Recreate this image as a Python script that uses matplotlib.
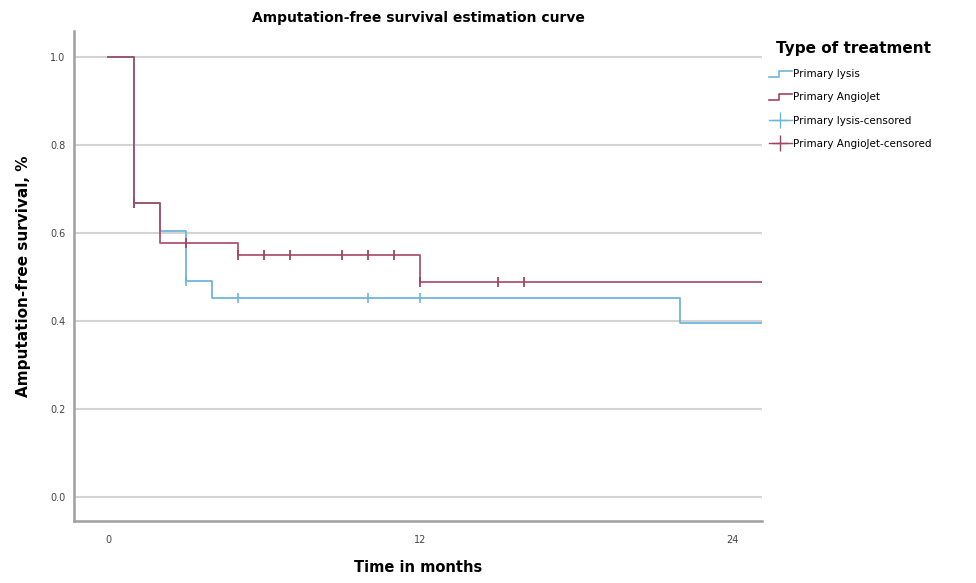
"""
Amputation-free survival, Kaplan-Meier style step curves per treatment.
"""
import matplotlib
matplotlib.use("Agg")
import matplotlib.pyplot as plt
from matplotlib.lines import Line2D
from matplotlib.legend_handler import HandlerBase

# Step curves (time in months, survival); each value holds until the next time
lysis_t = [0, 1, 2, 3, 4, 22, 25.2]
lysis_s = [1.0, 0.667, 0.605, 0.49, 0.452, 0.395, 0.395]
angio_t = [0, 1, 2, 5, 12, 25.2]
angio_s = [1.0, 0.667, 0.578, 0.55, 0.488, 0.488]

# Censored observations
lysis_cens_t = [1, 3, 5, 10, 12]
lysis_cens_s = [0.667, 0.49, 0.452, 0.452, 0.452]
angio_cens_t = [1, 3, 5, 6, 7, 9, 10, 11, 12, 15, 16]
angio_cens_s = [0.667, 0.578, 0.55, 0.55, 0.55, 0.55, 0.55, 0.55, 0.488, 0.488, 0.488]

x_ticks = [0, 12, 24]
y_ticks = [0.0, 0.2, 0.4, 0.6, 0.8, 1.0]

BLUE = "#6db5dc"
RED = "#a3445f"


class StepHandler(HandlerBase):
    # draws the little step glyph used by the legend
    def create_artists(self, legend, orig_handle, xd, yd, w, h, fontsize, trans):
        xs = [xd, xd + w * 0.45, xd + w * 0.45, xd + w]
        ys = [yd + h * 0.1, yd + h * 0.1, yd + h * 0.9, yd + h * 0.9]
        ln = Line2D(xs, ys, color=orig_handle.get_color(), lw=1.2, transform=trans)
        return [ln]


fig = plt.figure(figsize=(9.76, 5.83), dpi=100)
ax = fig.add_axes([0.0758, 0.106, 0.705, 0.84])

for y in y_ticks:
    ax.axhline(y, color="#d4d4d4", lw=1.5, zorder=0)

blue_line, = ax.step(lysis_t, lysis_s, where="post", color=BLUE, lw=1.3, zorder=2)
red_line, = ax.step(angio_t, angio_s, where="post", color=RED, lw=1.3,
                    alpha=0.9, zorder=3)
ax.plot(lysis_cens_t, lysis_cens_s, ls="none", marker="|", ms=7, mew=1.2,
        color=BLUE, zorder=4)
ax.plot(angio_cens_t, angio_cens_s, ls="none", marker="|", ms=7, mew=1.3,
        color=RED, zorder=5)

ax.set_xlim(-1.31, 25.15)
ax.set_ylim(-0.0545, 1.057)
ax.set_xticks(x_ticks)
ax.set_yticks(y_ticks)
ax.set_yticklabels(["%.1f" % v for v in y_ticks])
ax.tick_params(length=0, labelsize=7, colors="#444444", pad=6)
ax.tick_params(axis="x", pad=10)
for side in ["top", "right"]:
    ax.spines[side].set_visible(False)
for side in ["left", "bottom"]:
    ax.spines[side].set_color("#a0a0a0")
    ax.spines[side].set_linewidth(1.8)

ax.set_title("Amputation-free survival estimation curve", fontsize=10,
             fontweight="bold", pad=7)
ax.set_xlabel("Time in months", fontsize=10.5, fontweight="bold", labelpad=11)
ax.set_ylabel("Amputation-free survival, %", fontsize=11, fontweight="bold",
              labelpad=14)

h_blue = Line2D([], [], color=BLUE)
h_red = Line2D([], [], color=RED)
h_bc = Line2D([], [], color=BLUE, marker="+", ms=11, mew=1.0, lw=1.0)
h_rc = Line2D([], [], color=RED, marker="+", ms=11, mew=1.0, lw=1.0)
leg = fig.legend([h_blue, h_red, h_bc, h_rc],
                 ["Primary lysis", "Primary AngioJet", "Primary lysis-censored",
                  "Primary AngioJet-censored"],
                 handler_map={h_blue: StepHandler(), h_red: StepHandler()},
                 loc="upper left", bbox_to_anchor=(0.778, 0.945), frameon=False,
                 fontsize=7.5, handlelength=2.2, handletextpad=0.1,
                 labelspacing=1.25, title="Type of treatment",
                 title_fontproperties={"size": 11, "weight": "bold"})
leg._legend_box.align = "right"

fig.savefig("out.png", dpi=100)
